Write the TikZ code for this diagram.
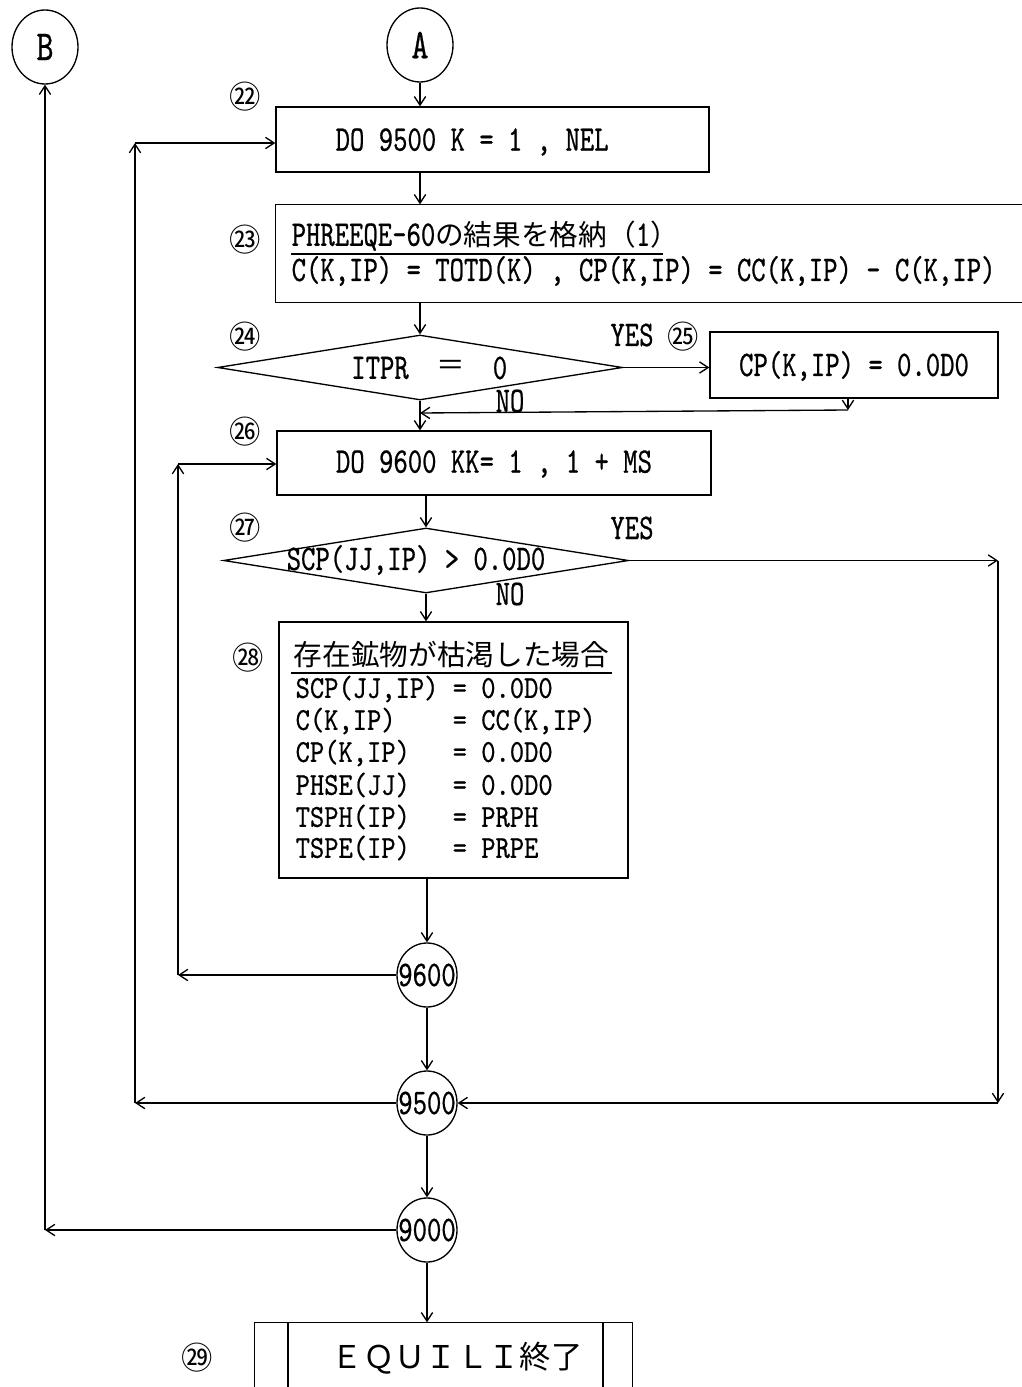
\documentclass[tikz,border=0pt]{standalone}
\usepackage{fontspec}
\usetikzlibrary{arrows.meta,shapes.geometric,fit}
\newfontfamily\monof[FakeStretch=0.76,FakeBold=0.6]{lmmono10-regular.otf}
\newfontfamily\monog[FakeStretch=0.85,FakeBold=0.6]{lmmono10-regular.otf}
\newfontfamily\cjkf{Noto Sans CJK JP}
\frenchspacing
\begin{document}
\begin{tikzpicture}[x=0.75pt,y=-0.75pt,line width=1pt,
  >={Straight Barb[length=6.5pt,width=8.5pt]},
  txt/.style={inner sep=0pt,font=\monof\fontsize{27}{29}\selectfont},
  sml/.style={inner sep=0pt,font=\monog\fontsize{24}{26}\selectfont},
  big/.style={inner sep=0pt,font=\monof\fontsize{32}{34}\selectfont},
  jp/.style={inner sep=0pt,font=\cjkf\fontsize{21.5}{24}\selectfont},
  num/.style={inner sep=0pt,font=\cjkf\fontsize{23.5}{25}\selectfont},
  boxx/.style={draw,inner sep=0pt},
  conn/.style={ellipse,draw,inner sep=0pt,minimum width=49.5pt,minimum height=55.5pt},
  lab/.style={ellipse,draw,inner sep=0pt,minimum width=45pt,minimum height=48pt},
  dec/.style={diamond,draw,inner sep=0pt,minimum width=303.75pt,minimum height=48.75pt},
  link/.style={->}]
\useasboundingbox (0,0) rectangle (1021,1387);
\newcommand{\jps}{\cjkf\fontsize{21.5}{24}\selectfont}
% connectors A, B
\node[conn] (B) at (45,47) {};
\node[big] (tB) at (B) {B};
\node[conn] (A) at (420,45) {};
\node[big] (tA) at (A) {A};
% box 22
\node[boxx,fit={(276,107)(709,172)}] (b22) {};
\node[txt,anchor=west] (t22) at (335,142) {DO 9500 K = 1 , NEL};
\node[num] (n22) at (245,97) {㉒};
% box 23 (open at right)
\node[inner sep=0pt,fit={(276,205)(1021,302)}] (b23) {};
\draw (b23.north east) -- (b23.north west) -- (b23.south west) -- (b23.south east);
\node[txt,anchor=west] (t23a) at (291,236) {PHREEQE-60{\jps の結果を格納（}1{\jps ）}};
\draw (291,254) -- (663,254);
\node[txt,anchor=west] (t23b) at (291,271) {C(K,IP) = TOTD(K) , CP(K,IP) = CC(K,IP) - C(K,IP)};
\node[num] (n23) at (245,240) {㉓};
% decision 24
\node[dec] (d24) at (420,367.5) {};
\node[txt] (t24a) at (380,368) {ITPR};
\node[jp] (t24b) at (451,368) {＝};
\node[txt] (t24c) at (500,368) {0};
\node[num] (n24) at (245,337) {㉔};
\node[txt] (yes24) at (632,335) {YES};
\node[num] (n25) at (683,337) {㉕};
\node[txt] (no24) at (510,401) {NO};
% box 25
\node[boxx,fit={(710,332)(998,398)}] (b25) {};
\node[txt] (t25) at (854,366) {CP(K,IP) = 0.0D0};
% box 26
\node[boxx,fit={(277,431)(711,495)}] (b26) {};
\node[txt] (t26) at (494,464) {DO 9600 KK= 1 , 1 + MS};
\node[num] (n26) at (245,432) {㉖};
% decision 27
\node[dec] (d27) at (426,560.5) {};
\node[txt] (t27) at (416,560) {SCP(JJ,IP) > 0.0D0};
\node[num] (n27) at (245,528) {㉗};
\node[txt] (yes27) at (632,528) {YES};
\node[txt] (no27) at (510,594) {NO};
% box 28
\node[boxx,fit={(279,622)(628,878)}] (b28) {};
\node[num] (n28) at (248,658) {㉘};
\node[jp,anchor=west] (t28a) at (293,655) {存在鉱物が枯渇した場合};
\draw (291,673) -- (612,673);
\node[sml,anchor=west] (t28b) at (295,689) {SCP(JJ,IP) = 0.0D0};
\node[sml,anchor=west] (t28c) at (295,721) {C(K,IP)\ \ \ \ = CC(K,IP)};
\node[sml,anchor=west] (t28d) at (295,753) {CP(K,IP)\ \ \ = 0.0D0};
\node[sml,anchor=west] (t28e) at (295,785) {PHSE(JJ)\ \ \ = 0.0D0};
\node[sml,anchor=west] (t28f) at (295,817) {TSPH(IP)\ \ \ = PRPH};
\node[sml,anchor=west] (t28g) at (295,848) {TSPE(IP)\ \ \ = PRPE};
% label circles
\node[lab] (c9600) at (427,975) {};
\node[txt] (t9600) at (c9600) {9600};
\node[lab] (c9500) at (427,1103) {};
\node[txt] (t9500) at (c9500) {9500};
\node[lab] (c9000) at (427,1230) {};
\node[txt] (t9000) at (c9000) {9000};
% box 29 (cut at bottom)
\node[inner sep=0pt,fit={(255,1323)(632,1387)}] (b29) {};
\draw (b29.south west) -- (b29.north west) -- (b29.north east) -- (b29.south east);
\draw (288,1323) -- (288,1387);
\draw (603,1323) -- (603,1387);
\node[inner sep=0pt,font=\cjkf\fontsize{23.5}{26}\selectfont] (t29) at (457,1358) {ＥＱＵＩＬＩ終了};
\node[num] (n29) at (197,1358) {㉙};
% helper coordinates
\coordinate (m25) at (848,410);
\coordinate (j24) at (420,413);
\coordinate (y1) at (998,560.5);
\coordinate (y2) at (998,1103);
\coordinate (l1) at (178,975);
\coordinate (l2) at (178,464);
\coordinate (k1) at (135,1103);
\coordinate (k2) at (135,143);
\coordinate (m1) at (45,1230);
% main flow
\draw[link] (A.south) -- (A.south |- b22.north);
\draw[link] (b22.south -| A.south) -- (b23.north -| A.south);
\draw[link] (b23.south -| d24.north) -- (d24.north);
\draw[link] (d24.east) -- (b25.west |- d24.east);
\draw[link] (b25.south -| m25) -- (m25);
\draw[link] (m25) -- (j24);
\draw[link] (d24.south) -- (d24.south |- b26.north);
\draw[link] (b26.south -| d27.north) -- (d27.north);
\draw[link] (d27.south) -- (d27.south |- b28.north);
\draw[link] (b28.south -| c9600.north) -- (c9600.north);
\draw[link] (c9600.south) -- (c9500.north);
\draw[link] (c9500.south) -- (c9000.north);
\draw[link] (c9000.south) -- (c9000.south |- b29.north);
% YES branch of 27
\draw[link] (d27.east) -- (y1);
\draw[link] (y1) -- (y2);
\draw[link] (y2) -- (c9500.east);
% loop 9600
\draw[link] (c9600.west) -- (l1);
\draw[link] (l1) -- (l2);
\draw[link] (l2) -- (b26.west |- l2);
% loop 9500
\draw[link] (c9500.west) -- (k1);
\draw[link] (k1) -- (k2);
\draw[link] (k2) -- (b22.west |- k2);
% to B
\draw[link] (c9000.west) -- (m1);
\draw[link] (m1) -- (B.south);
\end{tikzpicture}
\end{document}
